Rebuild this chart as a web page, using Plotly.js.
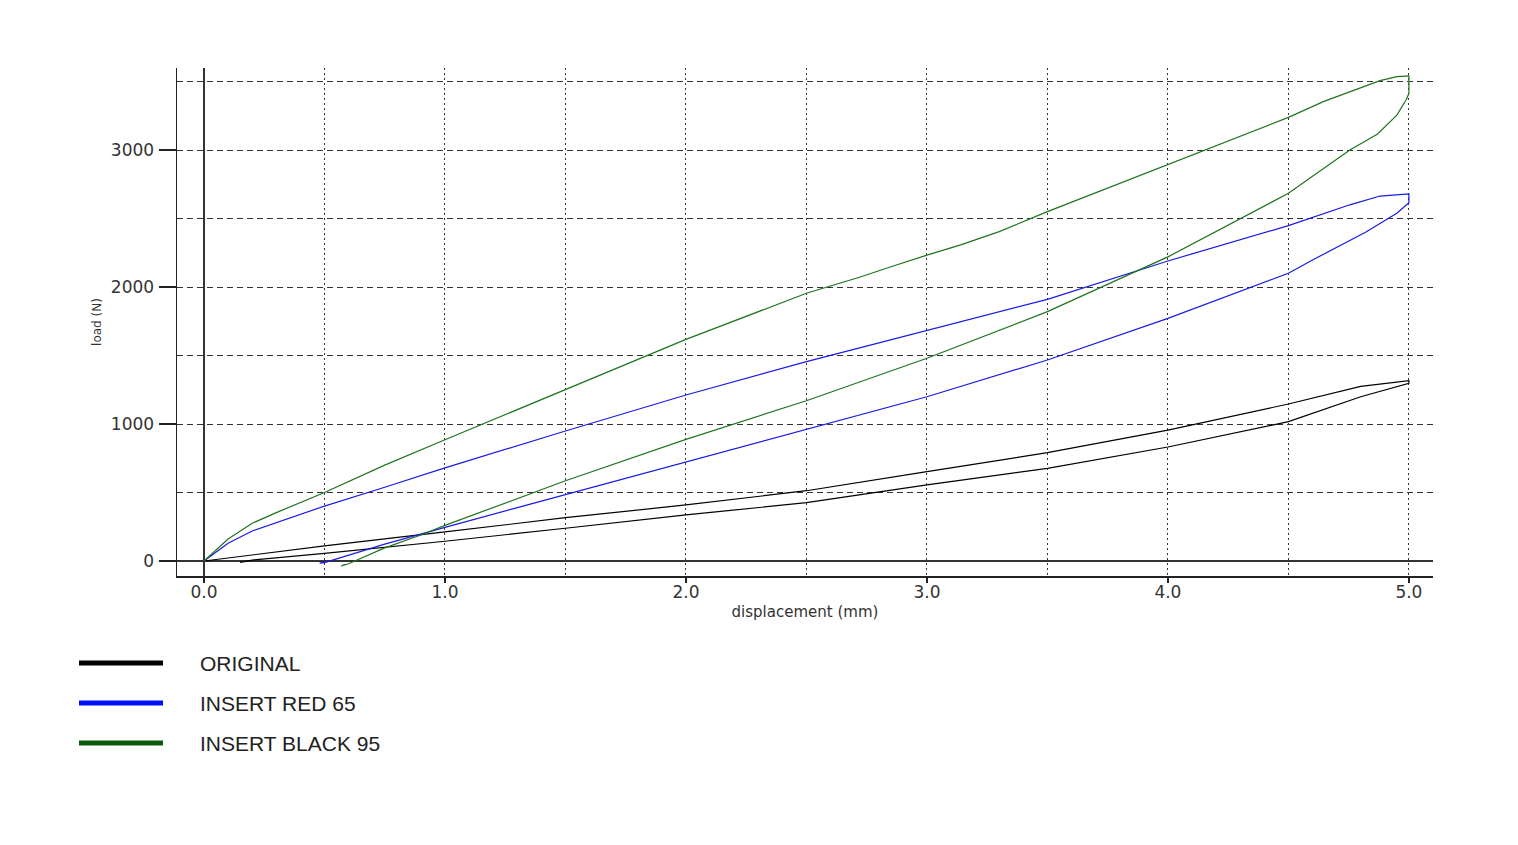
<!DOCTYPE html>
<html>
<head>
<meta charset="utf-8">
<script src="https://cdn.plot.ly/plotly-3.0.1.min.js"></script>
<style>
  html, body { margin: 0; padding: 0; background: #fff; }
  #chart { width: 1518px; height: 845px; }
</style>
</head>
<body>
<div id="chart"></div>
<script>
// ---- Data ----
const seriesNames = ["ORIGINAL", "INSERT RED 65", "INSERT BLACK 95"];

// ORIGINAL: loading branch then unloading branch
const originalX = [0, 0.5, 1.0, 1.5, 2.0, 2.5, 3.0, 3.5, 4.0, 4.5, 4.8, 5.0,
                   5.0, 4.8, 4.5, 4.0, 3.5, 3.0, 2.5, 2.0, 1.5, 1.0, 0.5, 0.2, 0.15];
const originalY = [0, 110, 212, 316, 409, 513, 652, 791, 955, 1146, 1275, 1316,
                   1297, 1199, 1017, 832, 676, 555, 426, 336, 239, 144, 56, 7, -10];

// INSERT RED 65
const red65X = [0, 0.1, 0.2, 0.3, 0.5, 0.75, 1.0, 1.5, 2.0, 2.5, 3.0, 3.5, 4.0, 4.5, 4.755, 4.88, 5.0,
                5.0, 4.95, 4.82, 4.6, 4.5, 4.0, 3.5, 3.0, 2.5, 2.0, 1.5, 1.0, 0.75, 0.5, 0.48, 0.5];
const red65Y = [0, 129, 219, 280, 401, 538, 680, 949, 1212, 1455, 1681, 1910, 2190, 2448, 2600, 2664, 2679,
                2615, 2538, 2400, 2197, 2100, 1771, 1467, 1199, 961, 725, 489, 246, 123, -12, -15, -8];

// INSERT BLACK 95
const black95X = [0, 0.1, 0.2, 0.3, 0.5, 0.75, 1.0, 1.5, 2.0, 2.5, 2.72, 2.86, 3.0, 3.14, 3.3, 3.5, 4.0, 4.5, 4.645, 4.88, 4.95, 5.0,
                  5.0, 4.99, 4.95, 4.87, 4.755, 4.5, 4.0, 3.8, 3.5, 3.0, 2.5, 2.0, 1.5, 1.0, 0.9, 0.75, 0.6, 0.57, 0.585];
const black95Y = [0, 161, 275, 353, 500, 700, 885, 1253, 1618, 1954, 2071, 2153, 2233, 2307, 2404, 2550, 2895, 3238, 3353, 3506, 3535, 3540,
                  3414, 3370, 3255, 3117, 3000, 2684, 2220, 2060, 1820, 1480, 1170, 888, 586, 260, 190, 96, -20, -36, -25];

// Tick labels
const xLabelStep = 1.0;
const yLabelStep = 1000;
const xGridVals = [0, 0.5, 1.0, 1.5, 2.0, 2.5, 3.0, 3.5, 4.0, 4.5, 5.0];
const xTickText = ["0.0", "", "1.0", "", "2.0", "", "3.0", "", "4.0", "", "5.0"];
const yGridVals = [0, 500, 1000, 1500, 2000, 2500, 3000, 3500];
const yTickText = ["0", "", "1000", "", "2000", "", "3000", ""];

const xLabel = "displacement (mm)";
const yLabel = "load (N)";

const curveColors = ["#000000", "#1a1ae6", "#1f741f"];
const legendColors = ["#000000", "#0010ff", "#0b5a0b"];

// ---- Traces ----
const xs = [originalX, red65X, black95X];
const ys = [originalY, red65Y, black95Y];
const traces = seriesNames.map((name, i) => ({
  type: "scatter",
  mode: "lines",
  name: name,
  x: xs[i],
  y: ys[i],
  line: { color: curveColors[i], width: 1.2 },
  showlegend: false,
  hoverinfo: "skip"
}));
// empty trace so the tick-only overlay axes are drawn
traces.push({ type: "scatter", mode: "lines", x: [], y: [], xaxis: "x2", yaxis: "y2", showlegend: false, hoverinfo: "skip" });

// ---- Layout ----
const W = 1518, H = 845;
const M = { l: 177, r: 85, t: 68, b: 269 };
const plotW = W - M.l - M.r, plotH = H - M.t - M.b;
const pxToPaperX = px => (px - M.l) / plotW;
const pxToPaperY = py => (H - M.b - py) / plotH;

const shapes = [];
const annotations = [];
seriesNames.forEach((name, i) => {
  const yc = 663 + 40 * i;
  shapes.push({
    type: "line", xref: "paper", yref: "paper",
    x0: pxToPaperX(79), x1: pxToPaperX(163),
    y0: pxToPaperY(yc), y1: pxToPaperY(yc),
    line: { color: legendColors[i], width: 5 }
  });
  annotations.push({
    xref: "paper", yref: "paper",
    x: pxToPaperX(198), y: pxToPaperY(yc),
    xanchor: "left", yanchor: "middle",
    text: name, showarrow: false,
    font: { family: "Liberation Sans, Arial, sans-serif", size: 21, color: "#222" }
  });
});

const gridCol = "#333333";
const xRange = [-0.112, 5.1];
const yRange = [-109.5, 3598.5];
const layout = {
  width: W, height: H,
  margin: M,
  paper_bgcolor: "#ffffff",
  plot_bgcolor: "#ffffff",
  showlegend: false,
  font: { family: "DejaVu Sans, sans-serif", color: "#333" },
  xaxis: {
    range: xRange,
    tickmode: "array", tickvals: xGridVals, ticktext: xTickText,
    ticks: "", ticklabelstandoff: 0,
    tickfont: { family: "DejaVu Sans, sans-serif", size: 17, color: "#333" },
    showgrid: true, gridcolor: gridCol, gridwidth: 1, griddash: "2px,3px",
    zeroline: true, zerolinecolor: "#333", zerolinewidth: 1.5,
    showline: true, linecolor: "#222", linewidth: 1.5,
    title: { text: xLabel, font: { family: "DejaVu Sans, sans-serif", size: 15, color: "#333" }, standoff: 5 }
  },
  yaxis: {
    range: yRange,
    tickmode: "array", tickvals: yGridVals, ticktext: yTickText,
    ticks: "", ticklabelstandoff: 18,
    tickfont: { family: "DejaVu Sans, sans-serif", size: 17, color: "#333" },
    showgrid: true, gridcolor: gridCol, gridwidth: 1, griddash: "6px,4px",
    zeroline: true, zerolinecolor: "#333", zerolinewidth: 1.5,
    showline: true, linecolor: "#222", linewidth: 1.5,
    title: { text: yLabel, font: { family: "DejaVu Sans, sans-serif", size: 12, color: "#333" }, standoff: 6 }
  },
  xaxis2: {
    overlaying: "x", side: "bottom", range: xRange,
    tick0: 0, dtick: xLabelStep,
    ticks: "outside", ticklen: 6, tickwidth: 1.5, tickcolor: "#222",
    showticklabels: false, showgrid: false, zeroline: false, showline: false
  },
  yaxis2: {
    overlaying: "y", side: "left", range: yRange,
    tick0: 0, dtick: yLabelStep,
    ticks: "outside", ticklen: 17, tickwidth: 1.5, tickcolor: "#222",
    showticklabels: false, showgrid: false, zeroline: false, showline: false
  },
  shapes: shapes,
  annotations: annotations
};

Plotly.newPlot("chart", traces, layout, { staticPlot: true, displayModeBar: false });
</script>
</body>
</html>
